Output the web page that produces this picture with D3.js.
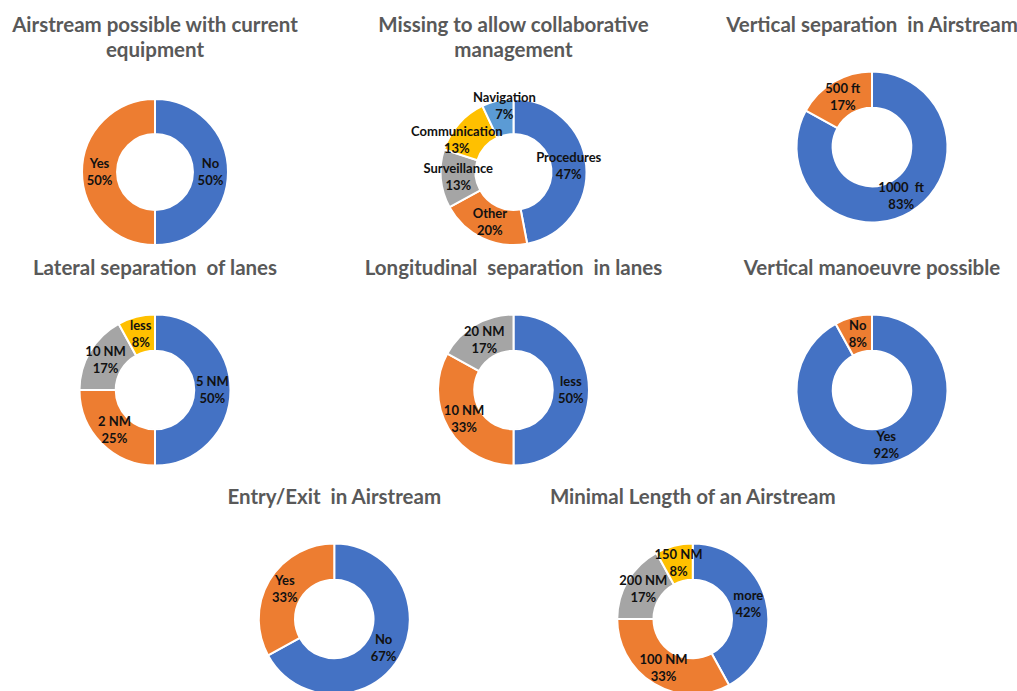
<!DOCTYPE html>
<html>
<head>
<meta charset="utf-8">
<script src="https://cdn.jsdelivr.net/npm/d3@7"></script>
<style>
  body { margin: 0; background: #fff; }
  svg { display: block; }
  .title { font-family: Lato, "Open Sans", sans-serif; font-weight: bold; fill: #595959; }
  .lbl { font-family: Lato, "Open Sans", sans-serif; font-weight: bold; fill: #111; }
</style>
</head>
<body>
<div id="image"></div>
<script>
var width = 1017, height = 691;

// titres des 8 graphiques (une entrée par ligne de titre)
var titles = [
    ["Airstream possible with current", "equipment"],
    ["Missing to allow collaborative", "management"],
    ["Vertical separation  in Airstream"],
    ["Lateral separation  of lanes"],
    ["Longitudinal  separation  in lanes"],
    ["Vertical manoeuvre possible"],
    ["Entry/Exit  in Airstream"],
    ["Minimal Length of an Airstream"]
];

// catégories et valeurs (%) de chaque anneau, dans l'ordre horaire depuis midi
var equipLabels = ["No", "Yes"];
var equipValues = [50, 50];
var missingLabels = ["Procedures", "Other", "Surveillance", "Communication", "Navigation"];
var missingValues = [47, 20, 13, 13, 7];
var vertSepLabels = ["1000  ft", "500 ft"];
var vertSepValues = [83, 17];
var latSepLabels = ["5 NM", "2 NM", "10 NM", "less"];
var latSepValues = [50, 25, 17, 8];
var longSepLabels = ["less", "10 NM", "20 NM"];
var longSepValues = [50, 33, 17];
var vertManLabels = ["Yes", "No"];
var vertManValues = [92, 8];
var entryLabels = ["No", "Yes"];
var entryValues = [67, 33];
var lengthLabels = ["more", "100 NM", "200 NM", "150 NM"];
var lengthValues = [42, 33, 17, 8];

var allLabels = [equipLabels, missingLabels, vertSepLabels, latSepLabels, longSepLabels, vertManLabels, entryLabels, lengthLabels];
var allValues = [equipValues, missingValues, vertSepValues, latSepValues, longSepValues, vertManValues, entryValues, lengthValues];

// position de chaque graphique dans la grille (colonne, rangée)
var gridCol = [0, 1, 2, 0, 1, 2, 0.5, 1.5];
var gridRow = [0, 0, 0, 1, 1, 1, 2, 2];

// petits décalages d'étiquettes (placement "best fit" d'Excel)
var labelNudge = {
    "Navigation": [3, -11],
    "Communication": [-15, 5]
};

// couleurs Office par défaut
var color = d3.scaleOrdinal()
    .domain(d3.range(5))
    .range(["#4472C4", "#ED7D31", "#A5A5A5", "#FFC000", "#5B9BD5"]);

var x = d3.scaleLinear().domain([0, 2]).range([155, 872]);
var rowY = d3.scaleOrdinal().domain([0, 1, 2]).range([32, 275, 504]);

var svg = d3.select("#image").append("svg")
    .attr("width", width)
    .attr("height", height);

var pie = d3.pie().sort(null).value(function (d) { return d.value; });

for (var i = 0; i < titles.length; i++) {
    var cx = x(gridCol[i]);
    var ty = rowY(gridRow[i]);
    var nLines = titles[i].length;
    var cy = ty + 25 * (nLines - 1) + 115;
    var r = nLines > 1 ? 73 : 75.5;

    // titre
    var t = svg.append("text")
        .attr("class", "title")
        .attr("x", cx)
        .attr("y", ty)
        .attr("text-anchor", "middle")
        .style("font-size", "20.5px")
        .style("white-space", "pre");
    titles[i].forEach(function (line, k) {
        t.append("tspan").attr("x", cx).attr("dy", k == 0 ? 0 : 25).text(line);
    });

    var data = allLabels[i].map(function (l, k) { return {label: l, value: allValues[i][k], idx: k}; });
    var arcs = pie(data);
    var arc = d3.arc().innerRadius(r * 0.52).outerRadius(r);

    var g = svg.append("g").attr("transform", "translate(" + cx + "," + cy + ")");

    g.selectAll("path")
        .data(arcs)
        .enter().append("path")
        .attr("d", arc)
        .attr("fill", function (d) { return color(d.data.idx); })
        .attr("stroke", "#fff")
        .attr("stroke-width", 2);

    // étiquettes : catégorie + pourcentage
    var lbl = g.selectAll("text")
        .data(arcs)
        .enter().append("text")
        .attr("class", "lbl")
        .attr("text-anchor", "middle")
        .style("font-size", "13px")
        .style("white-space", "pre")
        .attr("transform", function (d) {
            var c = arc.centroid(d);
            var n = labelNudge[d.data.label] || [0, 0];
            return "translate(" + (c[0] + n[0]) + "," + (c[1] + n[1] - 4.5) + ")";
        });
    lbl.append("tspan").attr("x", 0).attr("dy", 0).text(function (d) { return d.data.label; });
    lbl.append("tspan").attr("x", 0).attr("dy", 17).text(function (d) { return d.data.value + "%"; });
}
</script>
</body>
</html>
